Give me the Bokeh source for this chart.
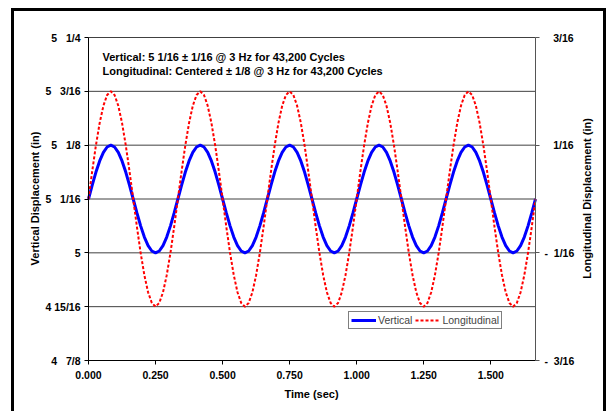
import math
from bokeh.plotting import figure
from bokeh.models import (Range1d, LinearAxis, FixedTicker, PrintfTickFormatter,
                          Legend, LegendItem, Label, InlineStyleSheet)
from bokeh.embed import file_html
from bokeh.resources import INLINE

# ---- data ----
time_s = [
    0.0000, 0.0139, 0.0278, 0.0417, 0.0556, 0.0694, 0.0833, 0.0972, 0.1111, 0.1250, 0.1389, 0.1528,
    0.1667, 0.1806, 0.1944, 0.2083, 0.2222, 0.2361, 0.2500, 0.2639, 0.2778, 0.2917, 0.3056, 0.3194,
    0.3333, 0.3472, 0.3611, 0.3750, 0.3889, 0.4028, 0.4167, 0.4306, 0.4444, 0.4583, 0.4722, 0.4861,
    0.5000, 0.5139, 0.5278, 0.5417, 0.5556, 0.5694, 0.5833, 0.5972, 0.6111, 0.6250, 0.6389, 0.6528,
    0.6667, 0.6806, 0.6944, 0.7083, 0.7222, 0.7361, 0.7500, 0.7639, 0.7778, 0.7917, 0.8056, 0.8194,
    0.8333, 0.8472, 0.8611, 0.8750, 0.8889, 0.9028, 0.9167, 0.9306, 0.9444, 0.9583, 0.9722, 0.9861,
    1.0000, 1.0139, 1.0278, 1.0417, 1.0556, 1.0694, 1.0833, 1.0972, 1.1111, 1.1250, 1.1389, 1.1528,
    1.1667, 1.1806, 1.1944, 1.2083, 1.2222, 1.2361, 1.2500, 1.2639, 1.2778, 1.2917, 1.3056, 1.3194,
    1.3333, 1.3472, 1.3611, 1.3750, 1.3889, 1.4028, 1.4167, 1.4306, 1.4444, 1.4583, 1.4722, 1.4861,
    1.5000, 1.5139, 1.5278, 1.5417, 1.5556, 1.5694, 1.5833, 1.5972, 1.6111, 1.6250, 1.6389, 1.6528,
    1.6667,
]

vertical_in = [
    5.0625, 5.0787, 5.0938, 5.1067, 5.1166, 5.1229, 5.1250, 5.1229, 5.1166, 5.1067, 5.0938, 5.0787,
    5.0625, 5.0463, 5.0313, 5.0183, 5.0084, 5.0021, 5.0000, 5.0021, 5.0084, 5.0183, 5.0313, 5.0463,
    5.0625, 5.0787, 5.0938, 5.1067, 5.1166, 5.1229, 5.1250, 5.1229, 5.1166, 5.1067, 5.0938, 5.0787,
    5.0625, 5.0463, 5.0313, 5.0183, 5.0084, 5.0021, 5.0000, 5.0021, 5.0084, 5.0183, 5.0313, 5.0463,
    5.0625, 5.0787, 5.0938, 5.1067, 5.1166, 5.1229, 5.1250, 5.1229, 5.1166, 5.1067, 5.0938, 5.0787,
    5.0625, 5.0463, 5.0313, 5.0183, 5.0084, 5.0021, 5.0000, 5.0021, 5.0084, 5.0183, 5.0313, 5.0463,
    5.0625, 5.0787, 5.0938, 5.1067, 5.1166, 5.1229, 5.1250, 5.1229, 5.1166, 5.1067, 5.0938, 5.0787,
    5.0625, 5.0463, 5.0313, 5.0183, 5.0084, 5.0021, 5.0000, 5.0021, 5.0084, 5.0183, 5.0313, 5.0463,
    5.0625, 5.0787, 5.0938, 5.1067, 5.1166, 5.1229, 5.1250, 5.1229, 5.1166, 5.1067, 5.0938, 5.0787,
    5.0625, 5.0463, 5.0313, 5.0183, 5.0084, 5.0021, 5.0000, 5.0021, 5.0084, 5.0183, 5.0313, 5.0463,
    5.0625,
]

longitudinal_in = [
    0.0000, 0.0324, 0.0625, 0.0884, 0.1083, 0.1207, 0.1250, 0.1207, 0.1083, 0.0884, 0.0625, 0.0324,
    0.0000, -0.0324, -0.0625, -0.0884, -0.1083, -0.1207, -0.1250, -0.1207, -0.1083, -0.0884, -0.0625, -0.0324,
    0.0000, 0.0324, 0.0625, 0.0884, 0.1083, 0.1207, 0.1250, 0.1207, 0.1083, 0.0884, 0.0625, 0.0324,
    0.0000, -0.0324, -0.0625, -0.0884, -0.1083, -0.1207, -0.1250, -0.1207, -0.1083, -0.0884, -0.0625, -0.0324,
    0.0000, 0.0324, 0.0625, 0.0884, 0.1083, 0.1207, 0.1250, 0.1207, 0.1083, 0.0884, 0.0625, 0.0324,
    0.0000, -0.0324, -0.0625, -0.0884, -0.1083, -0.1207, -0.1250, -0.1207, -0.1083, -0.0884, -0.0625, -0.0324,
    0.0000, 0.0324, 0.0625, 0.0884, 0.1083, 0.1207, 0.1250, 0.1207, 0.1083, 0.0884, 0.0625, 0.0324,
    0.0000, -0.0324, -0.0625, -0.0884, -0.1083, -0.1207, -0.1250, -0.1207, -0.1083, -0.0884, -0.0625, -0.0324,
    0.0000, 0.0324, 0.0625, 0.0884, 0.1083, 0.1207, 0.1250, 0.1207, 0.1083, 0.0884, 0.0625, 0.0324,
    0.0000, -0.0324, -0.0625, -0.0884, -0.1083, -0.1207, -0.1250, -0.1207, -0.1083, -0.0884, -0.0625, -0.0324,
    0.0000,
]

T_END = 1.6667                 # end of the time axis (s)
V_MIN, V_MAX = 4.875, 5.25     # vertical axis range (in)
L_MIN, L_MAX = -0.1875, 0.1875 # longitudinal axis range (in)

FS_ = "\u2007"
left_ticks = [4.875, 4.9375, 5.0, 5.0625, 5.125, 5.1875, 5.25]
left_tick_labels = ["4 " + FS_ + "7/8", "4 15/16", "5", "5 " + FS_ + "1/16",
                    "5 " + FS_ + "1/8", "5 " + FS_ + "3/16", "5 " + FS_ + "1/4"]
right_ticks = [-0.1875, -0.0625, 0.0625, 0.1875]
right_tick_labels = ["-" + FS_ + "3/16", "-" + FS_ + "1/16", "\u200b" + FS_ + " 1/16", "\u200b" + FS_ + " 3/16"]
x_ticks = [0.0, 0.25, 0.5, 0.75, 1.0, 1.25, 1.5]

note_lines = ["Vertical: 5 1/16 \u00b1 1/16 @ 3 Hz for 43,200 Cycles",
              "Longitudinal: Centered \u00b1 1/8 @ 3 Hz for 43,200 Cycles"]

FONT = "Liberation Sans"
FS = "11px"
TICK_FS = "10.5px"

# ---- layout: the plot frame covers the whole canvas; the data area is x 88..535, y 37..360 ----
W, H = 607, 411
PX_L, PX_R, PX_T, PX_B = 88, 535, 37, 360
sx = (PX_R - PX_L) / T_END
sy = (PX_B - PX_T) / (V_MAX - V_MIN)
x_range = Range1d(-PX_L / sx, T_END + (W - PX_R) / sx)
y_range = Range1d(V_MIN - (H - PX_B) / sy, V_MAX + PX_T / sy)
l_range = Range1d(L_MIN - (H - PX_B) / sy, L_MAX + PX_T / sy)

border_css = InlineStyleSheet(css="""
:host { position: relative; }
:host::after {
  content: ""; position: absolute; left: 11px; top: 8px; width: 595px; height: 403px;
  border: 3px solid black; border-bottom: none; box-sizing: border-box; pointer-events: none;
}
""")

p = figure(width=W, height=H, output_backend="svg", toolbar_location=None,
           x_range=x_range, y_range=y_range, x_axis_type=None, y_axis_type=None,
           min_border=0, background_fill_color="white", border_fill_color="white",
           stylesheets=[border_css])
p.outline_line_color = None
p.extra_y_ranges = {"long": l_range}
p.xgrid.grid_line_color = None
p.ygrid.grid_line_color = None

ya = LinearAxis(ticker=FixedTicker(ticks=left_ticks), fixed_location=0.0, bounds=(V_MIN, V_MAX))
ya.major_label_overrides = {t: s for t, s in zip(left_ticks, left_tick_labels)}
p.add_layout(ya, "left")

xa = LinearAxis(ticker=FixedTicker(ticks=x_ticks), fixed_location=V_MIN, bounds=(0.0, T_END),
                formatter=PrintfTickFormatter(format="%.3f"))
p.add_layout(xa, "below")

ra = LinearAxis(y_range_name="long", ticker=FixedTicker(ticks=right_ticks),
                fixed_location=T_END, bounds=(L_MIN, L_MAX))
ra.major_label_overrides = {t: s for t, s in zip(right_ticks, right_tick_labels)}
p.add_layout(ra, "right")

for ax in (ya, xa, ra):
    ax.major_label_text_font = FONT
    ax.major_label_text_font_size = TICK_FS
    ax.major_label_text_font_style = "bold"
    ax.major_label_text_color = "black"
    ax.minor_tick_line_color = None
    ax.major_tick_in = 0
    ax.major_tick_out = 4
    ax.axis_line_color = "black"
    ax.major_tick_line_color = "black"
ya.major_label_standoff = 4
xa.major_label_standoff = 6
ra.major_label_standoff = 5
ra.axis_line_color = "#555555"
ra.major_tick_line_color = "#555555"

# horizontal grid lines, one per left tick, across the time span only
p.segment(x0=[0.0] * len(left_ticks), y0=left_ticks, x1=[T_END] * len(left_ticks), y1=left_ticks,
          line_color="#404040", line_width=1)

r_v = p.line(time_s, vertical_in, line_color="#0000FF", line_width=3)
r_l = p.line(time_s, longitudinal_in, y_range_name="long", line_color="#FF0000",
             line_width=2, line_dash="3 2")

legend = Legend(items=[LegendItem(label="Vertical", renderers=[r_v]),
                       LegendItem(label="Longitudinal", renderers=[r_l])],
                location=(348, H - 329), orientation="horizontal",
                label_text_font=FONT, label_text_font_size="10.5px",
                glyph_width=25, glyph_height=12, label_standoff=2, spacing=3,
                padding=2, margin=0, border_line_color="black", border_line_width=1,
                label_height=12, label_width=10, background_fill_alpha=1)
p.add_layout(legend)

def text_label(x, y, text, angle=0.0, align="left"):
    p.add_layout(Label(x=x, y=y, x_units="canvas", y_units="canvas", text=text, angle=angle,
                       text_font=FONT, text_font_size=FS, text_font_style="bold",
                       text_color="black", text_baseline="middle", text_align=align))

for i, line in enumerate(note_lines):
    text_label(102, 56 + 14 * i, line)
text_label(34, 198, "Vertical Displacement (in)", angle=math.pi / 2, align="center")
text_label(586, 198, "Longitudinal Displacement (in)", angle=math.pi / 2, align="center")
text_label(311, 393, "Time (sec)", align="center")

open("out.html", "w").write(file_html(p, INLINE))
